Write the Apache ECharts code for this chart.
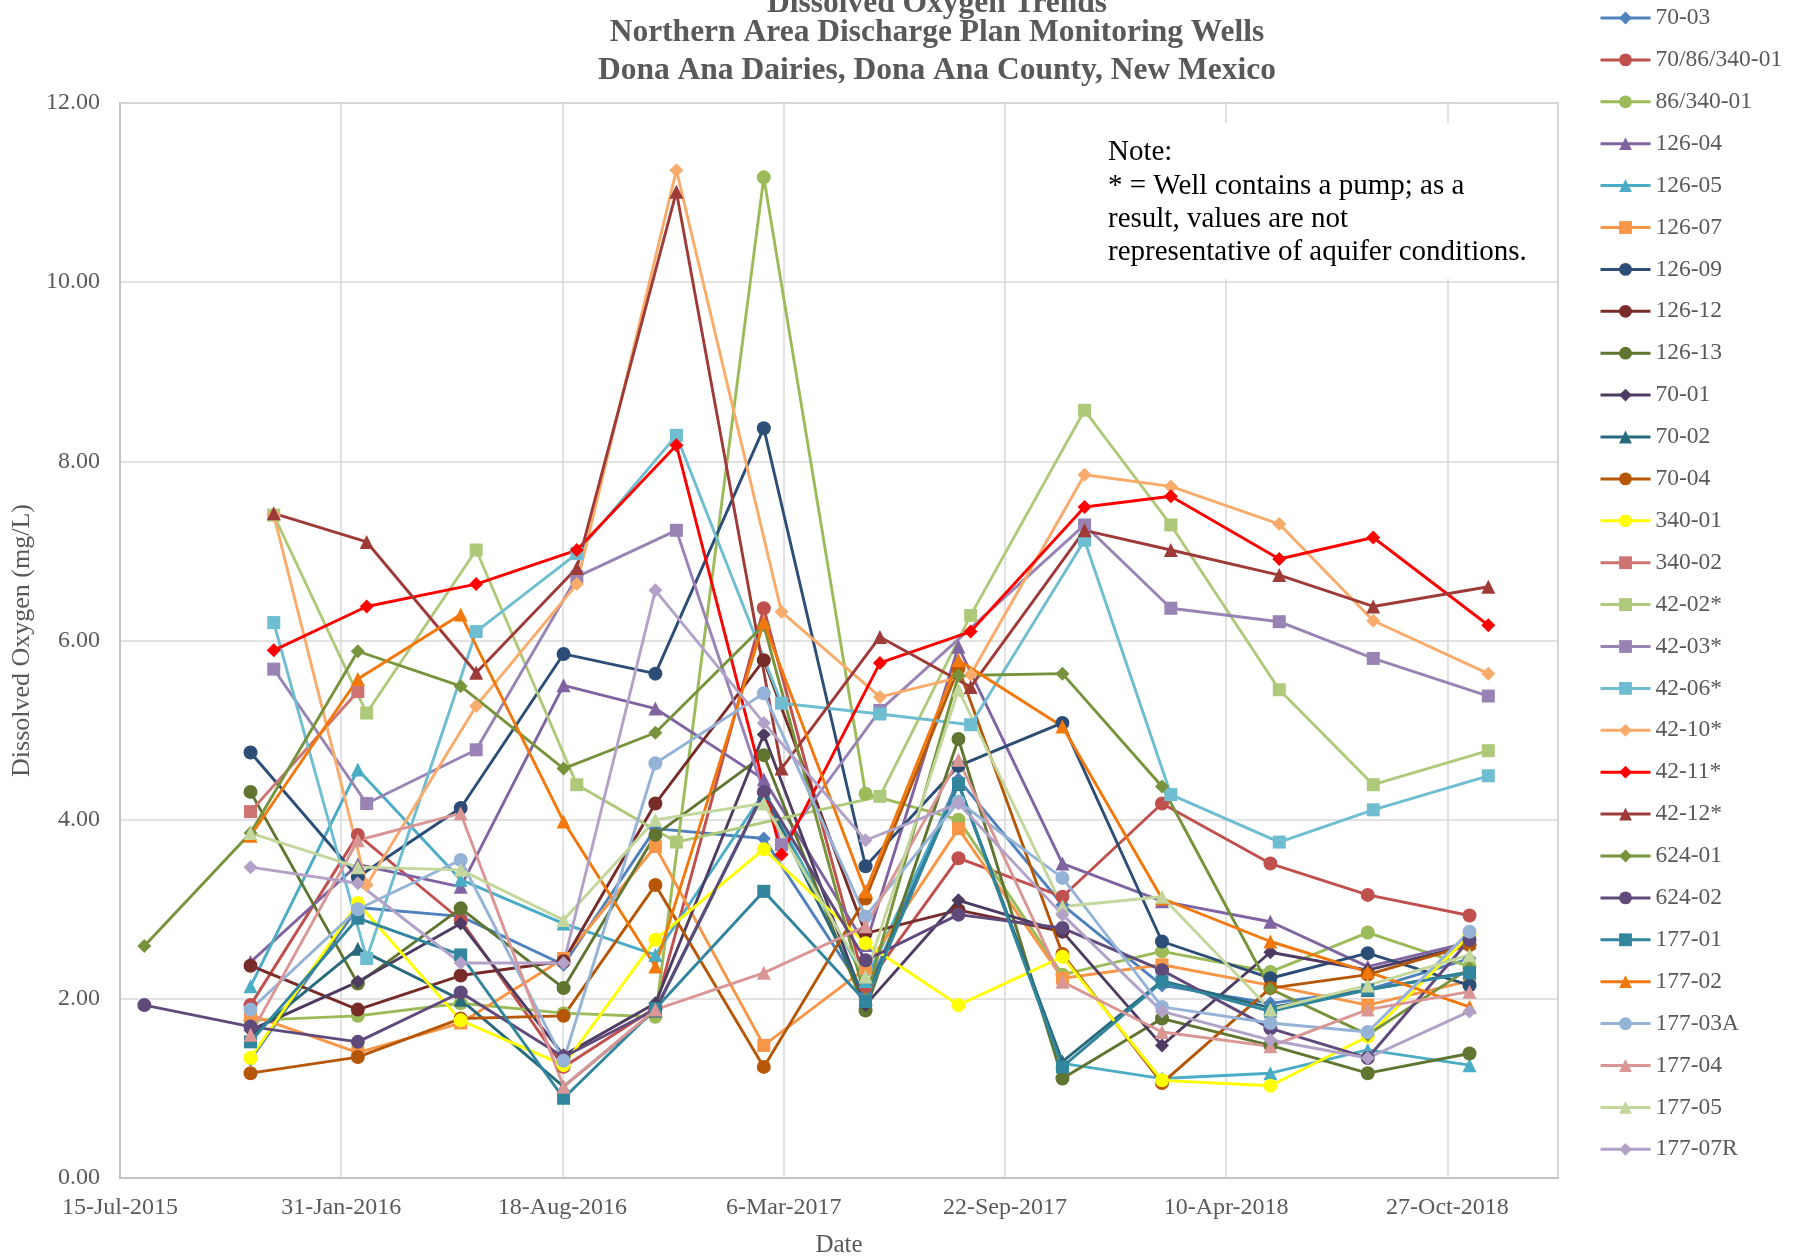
<!DOCTYPE html>
<html><head><meta charset="utf-8">
<script src="https://cdn.jsdelivr.net/npm/echarts@6/dist/echarts.min.js"></script>
<style>html,body{margin:0;padding:0;background:#fff}#c{width:1800px;height:1260px}</style>
</head><body><div id="c"></div>
<script>
// Sampling dates
const monitorDates = ['2015-08-06','2015-11-10','2016-02-15','2016-05-18','2016-08-19','2016-11-10','2017-02-16','2017-05-19','2017-08-11','2017-11-13','2018-02-11','2018-05-20','2018-08-16','2018-11-16'];
const pumpDates = ['2015-12-01','2016-02-23','2016-06-01','2016-08-31','2016-11-29','2017-03-04','2017-06-01','2017-08-22','2017-12-03','2018-02-19','2018-05-28','2018-08-21','2018-12-03'];

// Monitoring wells (values per monitorDates)
const w70_03   = [null,1.32,3.02,2.92,2.38,3.90,3.79,2.05,4.45,3.05,2.15,1.95,2.10,2.45];
const w70_86   = [null,1.93,3.83,2.88,1.24,1.90,6.36,2.14,3.57,3.14,4.18,3.51,3.16,2.93];
const w86_340  = [null,1.76,1.81,1.95,1.84,1.80,11.17,4.29,4.00,2.27,2.53,2.30,2.74,2.36];
const w126_04  = [null,2.41,3.50,3.25,5.50,5.24,4.45,2.60,5.93,3.51,3.09,2.86,2.36,2.63];
const w126_05  = [null,2.14,4.56,3.33,2.84,2.49,4.30,2.20,4.40,1.28,1.11,1.17,1.43,1.26];
const w126_07  = [null,1.82,1.40,1.73,2.45,3.70,1.48,2.34,3.90,2.23,2.38,2.15,1.93,2.20];
const w126_09  = [null,4.75,3.36,4.13,5.85,5.63,8.37,3.48,4.60,5.08,2.64,2.23,2.51,2.15];
const w126_12  = [null,2.37,1.88,2.26,2.42,4.18,5.78,2.73,2.99,2.75,null,null,null,null];
const w126_13  = [null,4.31,2.17,3.01,2.12,3.83,4.72,1.87,4.90,1.11,1.78,1.48,1.17,1.39];
const w70_01   = [null,1.65,2.19,2.84,1.37,1.95,4.95,1.93,3.10,2.75,1.48,2.52,2.32,2.60];
const w70_02   = [null,1.58,2.56,1.99,1.02,1.87,4.30,2.00,4.40,1.30,2.20,1.90,2.10,2.30];
const w70_04   = [null,1.17,1.35,1.78,1.81,3.27,1.24,3.12,5.69,2.50,1.06,2.12,2.27,2.60];
const w340_01  = [null,1.34,3.07,1.76,1.26,2.66,3.67,2.62,1.93,2.47,1.09,1.03,1.58,2.71];
const w340_02  = [null,4.09,5.43,null,null,null,null,null,null,null,null,null,null,null];
const w624_01  = [2.59,3.85,5.88,5.49,4.57,4.97,6.17,2.00,5.61,5.63,4.37,2.11,1.60,2.34];
const w624_02  = [1.93,1.69,1.52,2.07,1.35,1.88,4.31,2.43,2.94,2.79,2.32,1.67,1.34,2.66];
const w177_01  = [null,1.52,2.90,2.49,0.89,1.89,3.20,1.97,4.40,1.24,2.19,1.86,2.10,2.29];
const w177_02  = [null,3.82,5.57,6.29,3.98,2.36,6.20,3.20,5.78,5.04,3.12,2.64,2.30,1.91];
const w177_03A = [null,1.88,3.00,3.55,1.31,4.63,5.41,2.92,4.20,3.35,1.91,1.73,1.63,2.75];
const w177_04  = [null,1.60,3.77,4.07,1.02,1.88,2.29,2.81,4.67,2.19,1.63,1.47,1.88,2.08];
const w177_05  = [null,3.85,3.47,3.44,2.88,4.00,4.18,2.25,5.45,3.03,3.14,1.88,2.15,2.49];
const w177_07R = [null,3.47,3.29,2.40,2.40,6.56,5.08,3.77,4.18,2.94,1.86,1.54,1.34,1.86];

// Pumped wells (values per pumpDates)
const w42_02 = [7.40,5.19,7.01,4.39,3.75,null,4.26,6.28,8.57,7.29,5.45,4.39,4.77];
const w42_03 = [5.68,4.18,4.78,6.71,7.23,3.72,5.22,null,7.29,6.36,6.21,5.80,5.38];
const w42_06 = [6.20,2.45,6.10,6.97,8.29,5.30,5.18,5.06,7.12,4.28,3.75,4.11,4.49];
const w42_10 = [7.40,3.27,5.27,6.63,11.25,6.32,5.37,5.62,7.85,7.72,7.30,6.22,5.63];
const w42_11 = [5.89,6.38,6.63,7.01,8.18,3.61,5.75,6.10,7.49,7.61,6.91,7.15,6.17];
const w42_12 = [7.42,7.10,5.64,6.81,11.01,4.57,6.04,5.48,7.23,7.01,6.73,6.38,6.60];

const xTicks = {min: 42200, max: 43500, interval: 200};
const yTicks = {min: 0, max: 12, interval: 2};

const MON = ['Jan','Feb','Mar','Apr','May','Jun','Jul','Aug','Sep','Oct','Nov','Dec'];
function serial(s){const p=s.split('-').map(Number);return Date.UTC(p[0],p[1]-1,p[2])/86400000+25569;}
function fmtDate(v){const d=new Date((v-25569)*86400000);return d.getUTCDate()+'-'+MON[d.getUTCMonth()]+'-'+d.getUTCFullYear();}

const defs = [
 ['70-03', w70_03, 'm', '#4F81BD', 'diamond'],
 ['70/86/340-01', w70_86, 'm', '#C0504D', 'circle'],
 ['86/340-01', w86_340, 'm', '#9BBB59', 'circle'],
 ['126-04', w126_04, 'm', '#8064A2', 'triangle'],
 ['126-05', w126_05, 'm', '#4BACC6', 'triangle'],
 ['126-07', w126_07, 'm', '#F79646', 'rect'],
 ['126-09', w126_09, 'm', '#2C4D75', 'circle'],
 ['126-12', w126_12, 'm', '#772C2A', 'circle'],
 ['126-13', w126_13, 'm', '#5F7530', 'circle'],
 ['70-01', w70_01, 'm', '#4D3B62', 'diamond'],
 ['70-02', w70_02, 'm', '#276A7C', 'triangle'],
 ['70-04', w70_04, 'm', '#B65708', 'circle'],
 ['340-01', w340_01, 'm', '#FFFF00', 'circle'],
 ['340-02', w340_02, 'm', '#CD7371', 'rect'],
 ['42-02*', w42_02, 'p', '#AFC97A', 'rect'],
 ['42-03*', w42_03, 'p', '#9983B5', 'rect'],
 ['42-06*', w42_06, 'p', '#6FBDD1', 'rect'],
 ['42-10*', w42_10, 'p', '#F9AB6B', 'diamond'],
 ['42-11*', w42_11, 'p', '#FF0000', 'diamond'],
 ['42-12*', w42_12, 'p', '#9E3B38', 'triangle'],
 ['624-01', w624_01, 'm', '#77933C', 'diamond'],
 ['624-02', w624_02, 'm', '#604A7B', 'circle'],
 ['177-01', w177_01, 'm', '#31859C', 'rect'],
 ['177-02', w177_02, 'm', '#F2780C', 'triangle'],
 ['177-03A', w177_03A, 'm', '#95B3D7', 'circle'],
 ['177-04', w177_04, 'm', '#D99694', 'triangle'],
 ['177-05', w177_05, 'm', '#C3D69B', 'triangle'],
 ['177-07R', w177_07R, 'm', '#B3A2C7', 'diamond']
];

const series = defs.map(function(d){
  const dates = d[2]==='m' ? monitorDates : pumpDates;
  const data = [];
  d[1].forEach(function(v,i){ if(v!==null) data.push([serial(dates[i]), v]); });
  return {
    name: d[0], type: 'line', data: data, connectNulls: true,
    symbol: d[4], symbolSize: d[4]==='rect'?13:14,
    showSymbol: true,
    lineStyle: {color: d[3], width: 2.9},
    itemStyle: {color: d[3]},
    emphasis: {disabled: true},
    animation: false
  };
});

const FONT = '"Liberation Serif", "Times New Roman", serif';
const chart = echarts.init(document.getElementById('c'), null, {renderer: 'canvas'});
chart.setOption({
  backgroundColor: '#ffffff',
  animation: false,
  grid: {left: 120, right: 242, top: 103, bottom: 82, show: true, borderColor: '#BFBFBF', borderWidth: 1.5, containLabel: false, outerBoundsMode: 'none'},
  xAxis: {
    type: 'value', min: xTicks.min, max: xTicks.max, interval: xTicks.interval,
    name: 'Date', nameLocation: 'middle', nameGap: 55,
    nameTextStyle: {fontFamily: FONT, fontSize: 25, color: '#595959'},
    axisLine: {show: true, lineStyle: {color: '#BFBFBF', width: 1.5}},
    axisTick: {show: false},
    axisLabel: {formatter: fmtDate, fontFamily: FONT, fontSize: 24, color: '#595959', margin: 18, showMaxLabel: false},
    splitLine: {show: true, lineStyle: {color: '#D9D9D9', width: 1.5}}
  },
  yAxis: {
    type: 'value', min: yTicks.min, max: yTicks.max, interval: yTicks.interval,
    name: 'Dissolved Oxygen (mg/L)', nameLocation: 'middle', nameGap: 76,
    nameTextStyle: {fontFamily: FONT, fontSize: 26, color: '#595959'},
    axisLine: {show: true, lineStyle: {color: '#BFBFBF', width: 1.5}},
    axisTick: {show: false},
    axisLabel: {formatter: function(v){return v.toFixed(2);}, fontFamily: FONT, fontSize: 24, color: '#595959', margin: 20},
    splitLine: {show: true, lineStyle: {color: '#D9D9D9', width: 1.5}}
  },
  legend: {
    orient: 'vertical', left: 1594, top: 1, itemWidth: 50, itemHeight: 16, itemGap: 17.9,
    textStyle: {fontFamily: FONT, fontSize: 23.5, color: '#595959', lineHeight: 24},
    lineStyle: {width: 3},
    selectedMode: false
  },
  graphic: [
    {type: 'text', z: 100, x: 937, y: 4, style: {text: 'Dissolved Oxygen Trends', fontFamily: FONT, fontWeight: 'bold', fontSize: 31.5, fill: '#595959', textAlign: 'center', textVerticalAlign: 'middle'}},
    {type: 'text', z: 100, x: 937, y: 33, style: {text: 'Northern Area Discharge Plan Monitoring Wells', fontFamily: FONT, fontWeight: 'bold', fontSize: 31.5, fill: '#595959', textAlign: 'center', textVerticalAlign: 'middle'}},
    {type: 'text', z: 100, x: 937, y: 71, style: {text: 'Dona Ana Dairies, Dona Ana County, New Mexico', fontFamily: FONT, fontWeight: 'bold', fontSize: 31.5, fill: '#595959', textAlign: 'center', textVerticalAlign: 'middle'}},
    {type: 'rect', z: 90, shape: {x: 1092, y: 123, width: 456, height: 156}, style: {fill: '#ffffff'}},
    {type: 'text', z: 100, x: 1108, y: 152, style: {text: 'Note:', fontFamily: FONT, fontSize: 29, fill: '#000000', textAlign: 'left', textVerticalAlign: 'middle'}},
    {type: 'text', z: 100, x: 1108, y: 186, style: {text: '* = Well contains a pump; as a', fontFamily: FONT, fontSize: 29, fill: '#000000', textAlign: 'left', textVerticalAlign: 'middle'}},
    {type: 'text', z: 100, x: 1108, y: 219, style: {text: 'result, values are not', fontFamily: FONT, fontSize: 29, fill: '#000000', textAlign: 'left', textVerticalAlign: 'middle'}},
    {type: 'text', z: 100, x: 1108, y: 252, style: {text: 'representative of aquifer conditions.', fontFamily: FONT, fontSize: 29, fill: '#000000', textAlign: 'left', textVerticalAlign: 'middle'}}
  ],
  series: series
});
</script>
</body></html>
